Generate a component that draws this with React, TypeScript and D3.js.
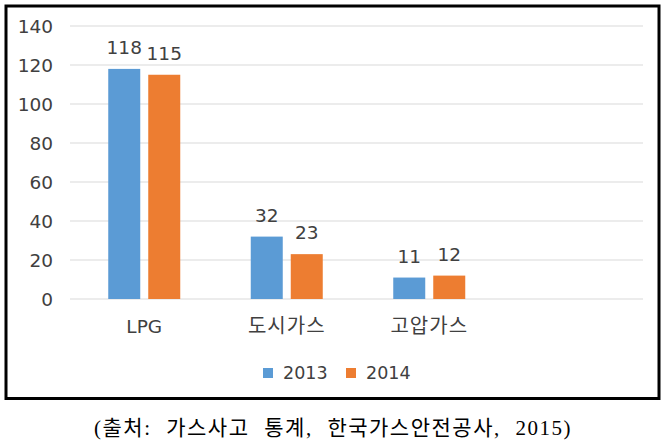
import React from "react";
import * as d3 from "d3";

const categories = ["LPG", "도시가스", "고압가스", ""];
const seriesNames = ["2013", "2014"];
const values2013 = [118, 32, 11, null];
const values2014 = [115, 23, 12, null];
const yTicks = [0, 20, 40, 60, 80, 100, 120, 140];
const caption = "(출처: 가스사고 통계, 한국가스안전공사, 2015)";

const colors = ["#5B9BD5", "#ED7D31"];
const W = 666;
const H = 447;
const sansFont = "'DejaVu Sans', 'Noto Sans CJK KR', sans-serif";

export default function App() {
  const series = [values2013, values2014];
  const y = d3.scaleLinear().domain([0, 140]).range([299, 26]);
  const x0 = d3.scaleBand<string>().domain(categories.map((c, i) => String(i))).range([73, 643]);
  const groupW = 72;
  const x1 = d3.scaleBand<string>().domain(seriesNames).range([0, groupW]).paddingInner(0.2);

  return (
    <svg width={W} height={H} style={{ position: "absolute", left: 0, top: 0, display: "block" }}>
      <rect x={0} y={0} width={W} height={H} fill="#fff" />
      <rect x={6} y={6} width={653} height={392.5} fill="#fff" stroke="#000" strokeWidth={3} />
      {yTicks.map((t) => (
        <g key={t}>
          <line x1={70} x2={643} y1={y(t)} y2={y(t)} stroke="#D9D9D9" strokeWidth={1.2} />
          <text x={53} y={y(t)} dy="0.36em" textAnchor="end" fontSize={18.5} fill="#404040" fontFamily={sansFont}>
            {t}
          </text>
        </g>
      ))}
      {categories.map((c, ci) => {
        const bx = (x0(String(ci)) as number) + (x0.bandwidth() - groupW) / 2;
        return (
          <g key={ci}>
            {series.map((vals, si) => {
              const v = vals[ci];
              if (v == null) return null;
              const xx = bx + (x1(seriesNames[si]) as number);
              return (
                <g key={si}>
                  <rect x={xx} y={y(v)} width={x1.bandwidth()} height={y(0) - y(v)} fill={colors[si]} />
                  <text x={xx + x1.bandwidth() / 2} y={y(v) - 15} textAnchor="middle" fontSize={18.5} fill="#404040" fontFamily={sansFont}>
                    {v}
                  </text>
                </g>
              );
            })}
            <text
              x={(x0(String(ci)) as number) + x0.bandwidth() / 2}
              y={333}
              textAnchor="middle"
              fontSize={ci === 0 ? 18.5 : 20}
              letterSpacing={ci === 0 ? 0 : 1}
              fill="#404040"
              fontFamily={sansFont}
            >
              {c}
            </text>
          </g>
        );
      })}
      {seriesNames.map((s, i) => {
        const lx = 263 + i * 83;
        return (
          <g key={s}>
            <rect x={lx} y={368} width={10} height={10} fill={colors[i]} />
            <text x={lx + 20} y={379} fontSize={17.5} fill="#404040" fontFamily={sansFont}>
              {s}
            </text>
          </g>
        );
      })}
      <text
        x={333}
        y={435}
        textAnchor="middle"
        fontSize={21}
        letterSpacing={1.5}
        wordSpacing={8}
        fill="#000"
        fontFamily="'Liberation Serif', 'Noto Sans CJK KR', serif"
      >
        {caption}
      </text>
    </svg>
  );
}
